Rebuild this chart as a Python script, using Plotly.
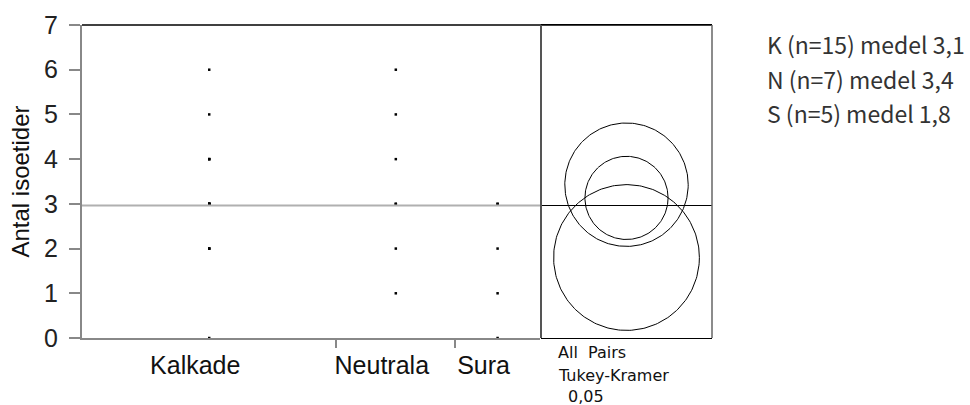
import numpy as np
import plotly.graph_objects as go

# Observations per soil group (number of isoetid species per lake)
groups = ["Kalkade", "Neutrala", "Sura"]
short = ["K", "N", "S"]
kalkade = [0, 2, 2, 2, 3, 3, 3, 3, 3, 3, 4, 4, 4, 5, 6]
neutrala = [1, 2, 3, 3, 4, 5, 6]
sura = [0, 1, 2, 3, 3]
# Tukey-Kramer comparison circle radii (in y units)
circle_radius = [0.93, 1.38, 1.63]

values = [kalkade, neutrala, sura]
counts = [len(v) for v in values]
means = [float(np.mean(v)) for v in values]
grand_mean = float(np.mean(kalkade + neutrala + sura))

W, H = 970, 405
ml, mr, mt, mb = 82, 258, 25, 67
pw, ph = W - ml - mr, H - mt - mb
main_px = 458
split = main_px / pw
ymax = 7
px_per_unit = ph / ymax
panel_units = (pw - main_px - 1) / px_per_unit

edges = np.concatenate([[0], np.cumsum(counts)])
centers = (edges[:-1] + edges[1:]) / 2

fig = go.Figure()

for i, v in enumerate(values):
    fig.add_trace(go.Scatter(
        x=[centers[i]] * len(v), y=v, mode="markers",
        marker=dict(symbol="square", size=2.5, color="black"),
        showlegend=False, hoverinfo="y"))

# grand mean across the main panel
fig.add_trace(go.Scatter(x=[0, edges[-1]], y=[grand_mean, grand_mean], mode="lines",
                         line=dict(color="#b0b0b0", width=2), showlegend=False, hoverinfo="skip"))
# grand mean across the comparison panel
fig.add_trace(go.Scatter(x=[0, panel_units], y=[grand_mean, grand_mean], mode="lines",
                         xaxis="x2", line=dict(color="black", width=1),
                         showlegend=False, hoverinfo="skip"))

# comparison circles
cx = panel_units / 2
t = np.linspace(0, 2 * np.pi, 240)
for m, r in zip(means, circle_radius):
    fig.add_trace(go.Scatter(x=cx + r * np.cos(t), y=m + r * np.sin(t), mode="lines",
                             xaxis="x2", line=dict(color="black", width=1),
                             showlegend=False, hoverinfo="skip"))

# group boundary ticks on an overlay axis
fig.add_trace(go.Scatter(x=[edges[1]], y=[None], xaxis="x3", showlegend=False, hoverinfo="skip"))

font_main = "Liberation Sans, Arial, sans-serif"
fig.update_layout(
    width=W, height=H,
    margin=dict(l=ml, r=mr, t=mt, b=mb),
    plot_bgcolor="white", paper_bgcolor="white",
    font=dict(family=font_main, color="#222"),
    xaxis=dict(domain=[0, split], range=[0, edges[-1]], showgrid=False, zeroline=False,
               showline=True, linecolor="#888", linewidth=2,
               tickvals=list(centers), ticktext=groups, ticks="",
               ticklabelshift=-14, ticklabelstandoff=4,
               tickfont=dict(size=25, color="#111")),
    xaxis3=dict(overlaying="x", range=[0, edges[-1]], showgrid=False, zeroline=False,
                showline=False, tickvals=list(edges[1:-1]), ticks="outside", ticklen=9,
                tickwidth=2, tickcolor="#888", showticklabels=False),
    xaxis2=dict(domain=[split + 1 / pw, 1], range=[0, panel_units], showgrid=False,
                zeroline=False, showline=True, linecolor="black", linewidth=1,
                mirror=True, showticklabels=False, ticks="", anchor="y"),
    yaxis=dict(range=[0, ymax], showgrid=False, zeroline=False, showline=True,
               linecolor="#888", linewidth=2, ticks="outside", ticklen=11, tickwidth=2,
               tickcolor="#888", tickvals=list(range(0, 8)),
               ticklabelstandoff=6,
               tickfont=dict(size=25, color="#222"),
               title=dict(text="Antal isoetider", font=dict(size=24, color="#111"), standoff=8)),
    shapes=[
        dict(type="line", xref="paper", yref="paper", x0=0, x1=1, y0=1, y1=1,
             line=dict(color="black", width=1.5)),
        dict(type="line", xref="x2 domain", yref="paper", x0=0, x1=0, y0=0, y1=1,
             line=dict(color="#555", width=2)),
        dict(type="line", xref="x2 domain", yref="paper", x0=1, x1=1, y0=0, y1=1,
             line=dict(color="#666", width=1.5)),
    ],
)

ann = []
small = dict(size=16, color="#111", family="DejaVu Sans, sans-serif")
for j, line in enumerate(["All  Pairs", "Tukey-Kramer"]):
    ann.append(dict(text=line, xref="x2 domain", yref="paper", x=0.085,
                    y=(H - mb - (352 + j * 23)) / ph,
                    xanchor="left", yanchor="middle", showarrow=False, font=small))
ann.append(dict(text="0,05", xref="x2 domain", yref="paper", x=0.145,
                y=(H - mb - 396) / ph,
                xanchor="left", yanchor="middle", showarrow=False, font=small))

for j, (s, n, m) in enumerate(zip(short, counts, means)):
    txt = f"{s} (n={n}) medel {m:.1f}".replace(".", ",")
    ann.append(dict(text=txt, xref="paper", yref="paper", x=(765 - ml) / pw,
                    y=(H - mb - (44 + j * 34.5)) / ph, xanchor="left", yanchor="middle",
                    showarrow=False,
                    font=dict(size=23, color="#333", family="Noto Sans CJK JP")))
fig.update_layout(annotations=ann)

fig.write_html("out.html")
